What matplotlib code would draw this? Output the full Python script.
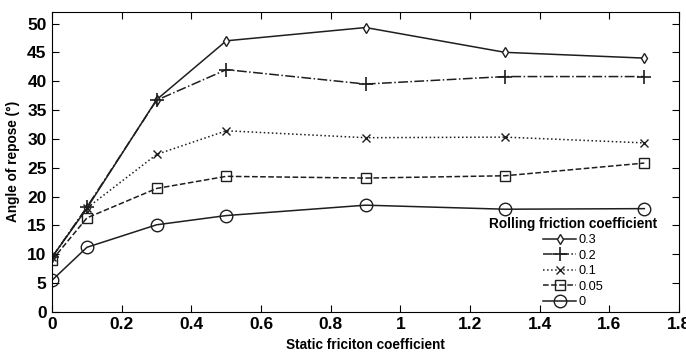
import numpy as np
import matplotlib
matplotlib.use("Agg")
import matplotlib.pyplot as plt

plt.rcParams['font.family'] = ['Liberation Sans', 'DejaVu Sans']

static_mu = [0, 0.1, 0.3, 0.5, 0.9, 1.3, 1.7]
rf_03 = [9.5, 18.0, 36.8, 47.0, 49.3, 45.0, 44.0]
rf_02 = [9.5, 18.2, 36.7, 42.0, 39.5, 40.8, 40.8]
rf_01 = [9.5, 18.0, 27.3, 31.4, 30.2, 30.3, 29.3]
rf_005 = [9.0, 16.3, 21.4, 23.5, 23.2, 23.6, 25.8]
rf_0 = [5.5, 11.2, 15.1, 16.7, 18.5, 17.8, 17.9]

fig = plt.figure(figsize=(6.86, 3.52), dpi=100)
ax = fig.add_axes([0.076, 0.114, 0.914, 0.852])

c = '#1e1e1e'
ax.plot(static_mu, rf_03, '-', color=c, lw=1.1, marker='d', ms=5, mfc='white', mec=c, label='0.3')
ax.plot(static_mu, rf_02, '-.', color=c, lw=1.1, marker='+', ms=10, mew=1.2, label='0.2')
ax.plot(static_mu, rf_01, ':', color=c, lw=1.1, marker='x', ms=6, mew=1.0, label='0.1')
ax.plot(static_mu, rf_005, '--', color=c, lw=1.1, marker='s', ms=7, mfc='none', mec=c, label='0.05')
ax.plot(static_mu, rf_0, '-', color=c, lw=1.1, marker='o', ms=9, mfc='none', mec=c, label='0')

ax.set_xlim(0, 1.8)
ax.set_ylim(0, 52)
ax.set_xticks(np.arange(0, 1.81, 0.2))
ax.set_xticklabels(['0', '0.2', '0.4', '0.6', '0.8', '1', '1.2', '1.4', '1.6', '1.8'])
ax.set_yticks(np.arange(0, 51, 5))
ax.tick_params(direction='in', top=True, right=True, length=5, labelsize=12.5, pad=4)
for lab in ax.get_xticklabels() + ax.get_yticklabels():
    lab.set_fontweight('bold')
ax.set_xlabel('Static friciton coefficient', fontsize=9.8, fontweight='bold', labelpad=4)
ax.set_ylabel('Angle of repose (\u00b0)', fontsize=9.8, fontweight='bold', labelpad=5)

leg = ax.legend(title='Rolling friction coefficient', loc='upper center',
                bbox_to_anchor=(0.831, 0.352), frameon=False, fontsize=9.2,
                handlelength=2.6, handletextpad=0.15, labelspacing=0.28,
                borderpad=0.3,
                title_fontproperties={'weight': 'bold', 'size': 9.8})
leg._legend_box.align = 'center'

fig.savefig('out.png', dpi=100)
